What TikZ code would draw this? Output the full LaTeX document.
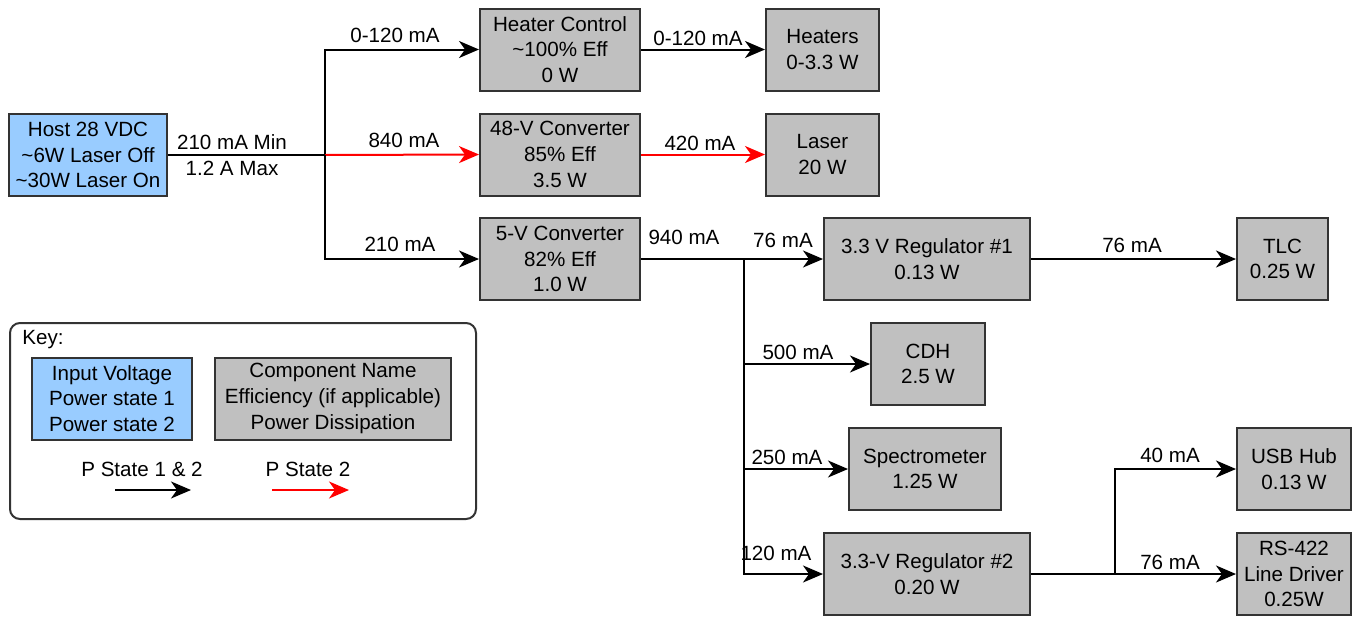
\documentclass[tikz,border=0pt]{standalone}
\usepackage{fontspec}
\setmainfont{Liberation Sans}
\usepackage{tikz}
\usetikzlibrary{arrows.meta, positioning}
\usepackage{xcolor}
\definecolor{boxgray}{HTML}{C0C0C0}
\definecolor{hostblue}{HTML}{99CCFF}
\definecolor{edgegray}{HTML}{333333}

\begin{document}
\begin{tikzpicture}[x=0.5pt, y=-0.5pt,
    comp/.style = {rectangle, draw=edgegray, fill=boxgray, line width=1pt, align=center, font=\fontsize{10.3}{12.8}\selectfont, inner sep=1pt, minimum height=41pt},
    source/.style = {comp, fill=hostblue},
    wire/.style = {draw=black, line width=1pt},
    flow/.style = {wire, -{Stealth[length=10pt, width=8.5pt, inset=3pt]}},
    laserflow/.style = {flow, draw=red},
    lbl/.style = {font=\fontsize{10.3}{12.8}\selectfont, inner sep=1pt}
]
\useasboundingbox (0,0) rectangle (1353,616);

% Source and first stage
\node (host) [source, minimum width=79pt] at (88,155) {Host 28 VDC\\\textasciitilde6W Laser Off\\\textasciitilde30W Laser On};
\node (heatctl) [comp, minimum width=80pt] at (560,49.5) {Heater Control\\\textasciitilde100\% Eff\\0 W};
\node (conv48) [comp, minimum width=80pt] at (560,154.5) {48-V Converter\\85\% Eff\\3.5 W};
\node (conv5) [comp, minimum width=80pt] at (560,259) {5-V Converter\\82\% Eff\\1.0 W};

% Loads of the first stage
\node (heaters) [comp, minimum width=56.5pt] at (822.5,49.5) {Heaters\\0-3.3 W};
\node (laser) [comp, minimum width=56.5pt] at (822.5,154.5) {Laser\\20 W};

% 5-V branch
\node (reg1) [comp, minimum width=103pt] at (927,259) {3.3 V Regulator \#1\\0.13 W};
\node (tlc) [comp, minimum width=45.5pt] at (1282.5,259) {TLC\\0.25 W};
\node (cdh) [comp, minimum width=57pt] at (928,364) {CDH\\2.5 W};
\node (spec) [comp, minimum width=76pt] at (925,469) {Spectrometer\\1.25 W};
\node (reg2) [comp, minimum width=103pt] at (927,574) {3.3-V Regulator \#2\\0.20 W};
\node (usb) [comp, minimum width=57pt] at (1294,469) {USB Hub\\0.13 W};
\node (rs422) [comp, minimum width=57pt] at (1294,574) {RS-422\\Line Driver\\0.25W};

% Junctions
\coordinate (split) at (325,155);
\coordinate (bus) at (744,259);
\coordinate (bus2) at (1115,574);

% Host to the converters
\draw [wire] (host.east) -- (split);
\draw [flow] (split) |- (heatctl.west);
\draw [laserflow] (split) -- (conv48.west);
\draw [flow] (split) |- (conv5.west);
\draw [flow] (heatctl.east) -- (heaters.west);
\draw [laserflow] (conv48.east) -- (laser.west);

% 5-V bus
\draw [wire] (conv5.east) -- (bus);
\draw [flow] (bus) -- (reg1.west);
\draw [flow] (bus) |- (cdh.west);
\draw [flow] (bus) |- (spec.west);
\draw [flow] (bus) |- (reg2.west);
\draw [flow] (reg1.east) -- (tlc.west);

% Regulator 2 outputs
\draw [wire] (reg2.east) -- (bus2);
\draw [flow] (bus2) |- (usb.west);
\draw [flow] (bus2) -- (rs422.west);

% Current labels
\node (lhmin) [lbl] at (232,142) {210 mA Min};
\node (lhmax) [lbl] at (232,168) {1.2 A Max};
\node (lheat) [lbl] at (395,35) {0-120 mA};
\node (l48) [lbl] at (404,140) {840 mA};
\node (l5) [lbl] at (400,244) {210 mA};
\node (lheat2) [lbl] at (698,38) {0-120 mA};
\node (llaser) [lbl] at (700,143) {420 mA};
\node (lbus) [lbl] at (684,237) {940 mA};
\node (lreg1) [lbl] at (783,240) {76 mA};
\node (ltlc) [lbl] at (1132,245) {76 mA};
\node (lcdh) [lbl] at (798,352) {500 mA};
\node (lspec) [lbl] at (787,457) {250 mA};
\node (lreg2) [lbl] at (776,553) {120 mA};
\node (lusb) [lbl] at (1170,455) {40 mA};
\node (lrs) [lbl] at (1170,562) {76 mA};

% Key
\node (key) [draw=black!80, line width=1pt, rounded corners=5pt, minimum width=233pt, minimum height=98pt] at (243,421) {};
\node (keytitle) [lbl, anchor=west] at (20,340) {Key:};
\node (keysrc) [source, minimum width=80pt] at (112,398.5) {Input Voltage\\Power state 1\\Power state 2};
\node (keycomp) [comp, minimum width=118pt] at (333,398.5) {Component Name\\Efficiency (if applicable)\\Power Dissipation};
\node (keyblk) [lbl] at (142,469) {P State 1 \& 2};
\node (keyred) [lbl] at (308,469) {P State 2};
\coordinate (kb1) at (115,490);
\coordinate (kb2) at (191,490);
\coordinate (kr1) at (272,490);
\coordinate (kr2) at (349,490);
\draw [flow] (kb1) -- (kb2);
\draw [laserflow] (kr1) -- (kr2);

\end{tikzpicture}
\end{document}
